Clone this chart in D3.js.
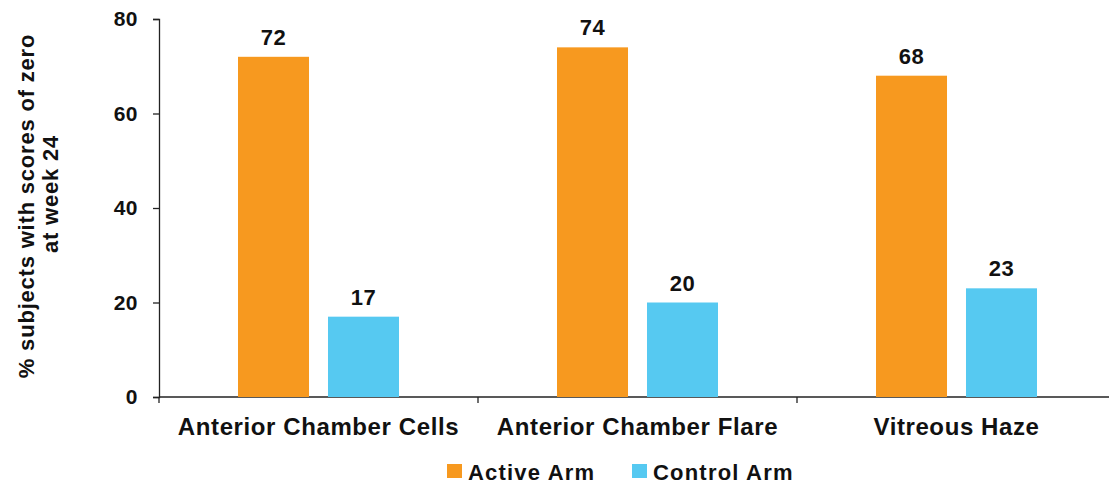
<!DOCTYPE html>
<html>
<head>
<meta charset="utf-8">
<script src="https://cdn.jsdelivr.net/npm/d3@7"></script>
<style>
body { margin: 0; background: #fff; }
text { font-family: "Liberation Sans", Arial, sans-serif; font-weight: bold; fill: #111; }
</style>
</head>
<body>
<script>
var categories = ["Anterior Chamber Cells", "Anterior Chamber Flare", "Vitreous Haze"];
var seriesNames = ["Active Arm", "Control Arm"];
var activeArm = [72, 74, 68];
var controlArm = [17, 20, 23];
var yTicks = [0, 20, 40, 60, 80];
var colors = ["#F7991F", "#56C9F1"];

var w = 1109;
var h = 486;

var svg = d3.select("body").append("svg")
	.attr("width", w)
	.attr("height", h);

var data = categories.map(function(c, i){
	return {cat: c, values: [activeArm[i], controlArm[i]]};
});

var x0 = d3.scaleBand()
	.domain(categories)
	.range([159, 1116])
	.paddingInner(0)
	.paddingOuter(0);

var x1 = d3.scaleBand()
	.domain(seriesNames)
	.range([0, x0.bandwidth()])
	.paddingInner(0.211)
	.paddingOuter(0.878);

var yScale = d3.scaleLinear()
	.domain([0, 80])
	.range([397, 19]);

// y axis
var yAxis = svg.append("g")
	.attr("transform", "translate(159,0)")
	.call(d3.axisLeft(yScale).tickValues(yTicks).tickSize(6).tickPadding(15));

yAxis.selectAll("text")
	.attr("font-size", "21px")
	.attr("fill", "#111")
	.attr("letter-spacing", "0.5px")
	.style("font-family", "'Liberation Sans', Arial, sans-serif");

// x axis with ticks at category boundaries
var xAxis = svg.append("g")
	.attr("transform", "translate(0,397)");

xAxis.append("line")
	.attr("x1", 159).attr("x2", w)
	.attr("stroke", "#222").attr("stroke-width", 1.3);

xAxis.selectAll(".bound")
	.data(categories)
	.enter()
	.append("line")
	.attr("x1", function(d){ return x0(d); })
	.attr("x2", function(d){ return x0(d); })
	.attr("y1", 0).attr("y2", 6)
	.attr("stroke", "#222").attr("stroke-width", 1.3);

xAxis.selectAll(".cat")
	.data(categories)
	.enter()
	.append("text")
	.attr("x", function(d){ return x0(d) + x0.bandwidth()/2; })
	.attr("y", 38)
	.attr("text-anchor", "middle")
	.attr("font-size", "24px")
	.attr("letter-spacing", "0.6px")
	.text(function(d){ return d; });

yAxis.select(".domain").attr("stroke", "#222").attr("stroke-width", 1.3);
yAxis.selectAll(".tick line").attr("stroke", "#222").attr("stroke-width", 1.3);

// bars
var groups = svg.selectAll(".group")
	.data(data)
	.enter()
	.append("g")
	.attr("transform", function(d){ return "translate(" + x0(d.cat) + ",0)"; });

var bars = groups.selectAll("rect")
	.data(function(d){ return d.values.map(function(v, i){ return {name: seriesNames[i], v: v, i: i}; }); })
	.enter();

bars.append("rect")
	.attr("x", function(d){ return x1(d.name); })
	.attr("y", function(d){ return yScale(d.v); })
	.attr("width", x1.bandwidth())
	.attr("height", function(d){ return yScale(0) - yScale(d.v); })
	.attr("fill", function(d){ return colors[d.i]; });

bars.append("text")
	.attr("x", function(d){ return x1(d.name) + x1.bandwidth()/2; })
	.attr("y", function(d){ return yScale(d.v) - 12; })
	.attr("text-anchor", "middle")
	.attr("font-size", "22px")
	.attr("letter-spacing", "0.5px")
	.text(function(d){ return d.v; });

// y title
var title = svg.append("text")
	.attr("transform", "translate(0,206) rotate(-90)")
	.attr("text-anchor", "middle")
	.attr("font-size", "22px")
	.attr("letter-spacing", "0.8px");

title.append("tspan").attr("x", 0).attr("y", 34).text("% subjects with scores of zero");
title.append("tspan").attr("x", 12).attr("y", 58).text("at week 24");

// legend
var legend = svg.selectAll(".legend")
	.data(seriesNames)
	.enter()
	.append("g")
	.attr("transform", function(d, i){ return "translate(" + [447, 632][i] + ",464)"; });

legend.append("rect")
	.attr("width", 15).attr("height", 14)
	.attr("fill", function(d, i){ return colors[i]; });

legend.append("text")
	.attr("x", 21)
	.attr("y", 16)
	.attr("font-size", "22px")
	.attr("letter-spacing", "1.2px")
	.text(function(d){ return d; });
</script>
</body>
</html>
